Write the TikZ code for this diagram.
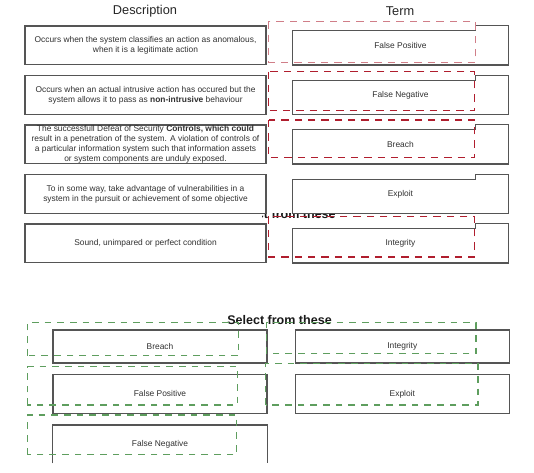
\documentclass[tikz,border=0pt]{standalone}
\usepackage{fontspec}
\setmainfont{Liberation Sans}
\usetikzlibrary{positioning}

\definecolor{boxgray}{HTML}{555555}
\definecolor{txtgray}{HTML}{303030}
\definecolor{dropred}{HTML}{B01E2E}
\definecolor{palered}{HTML}{D07E88}
\definecolor{dropgreen}{HTML}{5E9E5E}

\begin{document}
\begin{tikzpicture}[
  x=0.75pt, y=-0.75pt,
  font=\fontsize{6.3}{7.4}\selectfont, text=txtgray,
  desc/.style={draw=boxgray, line width=1pt, align=center, inner sep=0pt, minimum width=180.75pt, minimum height=29pt},
  term/.style={inner sep=0pt, minimum width=161.25pt, minimum height=29pt},
  choice/.style={draw=boxgray, line width=1pt, inner sep=0pt, minimum width=160.5pt},
  head/.style={font=\fontsize{9.6}{11}\selectfont, text=black!85},
  selhead/.style={font=\bfseries\fontsize{9.4}{11}\selectfont, text=black!90},
  outline/.style={draw=boxgray, line width=1pt},
  redzone/.style={draw=dropred, line width=0.9pt, dash pattern=on 5.5pt off 4.5pt},
  greenzone/.style={draw=dropgreen, line width=0.9pt, dash pattern=on 5pt off 4.5pt}
]
\useasboundingbox (0,0) rectangle (534,473);

% column titles
\node[head] (hdesc) at (145,11) {Description};
\node[head] (hterm) at (400,11) {Term};

% copy of the lower title, mostly hidden
\begin{scope}
  \clip (262,214) rectangle (345,222);
  \node[selhead, anchor=base west] (ghost) at (226.5,218.5) {Select from these};
\end{scope}

% descriptions
\node[desc] (d1) at (145.5,45.4) {Occurs when the system classifies an action as anomalous,\\when it is a legitimate action};
\node[desc, below=7.125pt of d1] (d2) {Occurs when an actual intrusive action has occured but the\\system allows it to pass as \textbf{non-intrusive} behaviour};
\node[desc, below=7.125pt of d2] (d3) {The successfull Defeat of Security \textbf{Controls, which could}\\result in a penetration of the system. A violation of controls of\\a particular information system such that information assets\\or system components are unduly exposed.};
\node[desc, below=7.125pt of d3] (d4) {To in some way, take advantage of vulnerabilities in a\\system in the pursuit or achievement of some objective};
\node[desc, below=7.125pt of d4] (d5) {Sound, unimpared or perfect condition};

% terms
\node[term, right=19.5pt of d1] (t1) {False Positive};
\node[term, right=19.5pt of d2] (t2) {False Negative};
\node[term, right=19.5pt of d3] (t3) {Breach};
\node[term, right=19.5pt of d4] (t4) {Exploit};
\node[term, right=19.5pt of d5] (t5) {Integrity};
\foreach \t in {t1,t2,t3,t4,t5}
  \draw[outline] (\t.north east) -- (\t.south east) -- (\t.south west)
    -- ([yshift=-3.75pt]\t.north west) -- ([xshift=-24.75pt,yshift=-3.75pt]\t.north east)
    -- ([xshift=-24.75pt]\t.north east) -- cycle;

% placed answers
\draw[redzone, draw=palered] ([xshift=1.5pt,yshift=3pt]d1.north east) rectangle ([xshift=-24.75pt,yshift=2pt]t1.south east);
\foreach \r/\a/\b in {2/2.5/3, 3/3.3/4.7, 5/5.2/4.5}
  \draw[redzone] ([xshift=1.5pt,yshift=\a pt]d\r.north east) rectangle ([xshift=-25.5pt,yshift=\b pt]t\r.south east);

% choices
\node[selhead] (sel) at (279.5,320) {Select from these};
\node[choice, minimum height=24.75pt] (cb1) at (160,346.5) {Breach};
\node[choice, minimum height=29.25pt, below=7.5pt of cb1] (cb2) {False Positive};
\node[choice, draw=none, minimum height=27.75pt, below=8.25pt of cb2] (cb3) {False Negative};
\draw[outline] (cb3.south west) -- (cb3.north west) -- (cb3.north east) -- (cb3.south east);
\node[choice, minimum height=24.75pt, right=20.25pt of cb1] (cb4) {Integrity};
\node[choice, minimum height=29.25pt, right=20.25pt of cb2] (cb5) {Exploit};

% dragged items
\foreach \b/\l/\r/\u/\s in {cb1/25/29/7/8, cb2/25/30/7/9, cb3/25/31/10/9, cb4/28/34/7/10, cb5/29/32/10/9}
  \draw[greenzone] ([xshift={-\l*0.75pt},yshift={\s*0.75pt}]\b.south west) rectangle ([xshift={-\r*0.75pt},yshift={\u*0.75pt}]\b.north east);
\end{tikzpicture}
\end{document}
